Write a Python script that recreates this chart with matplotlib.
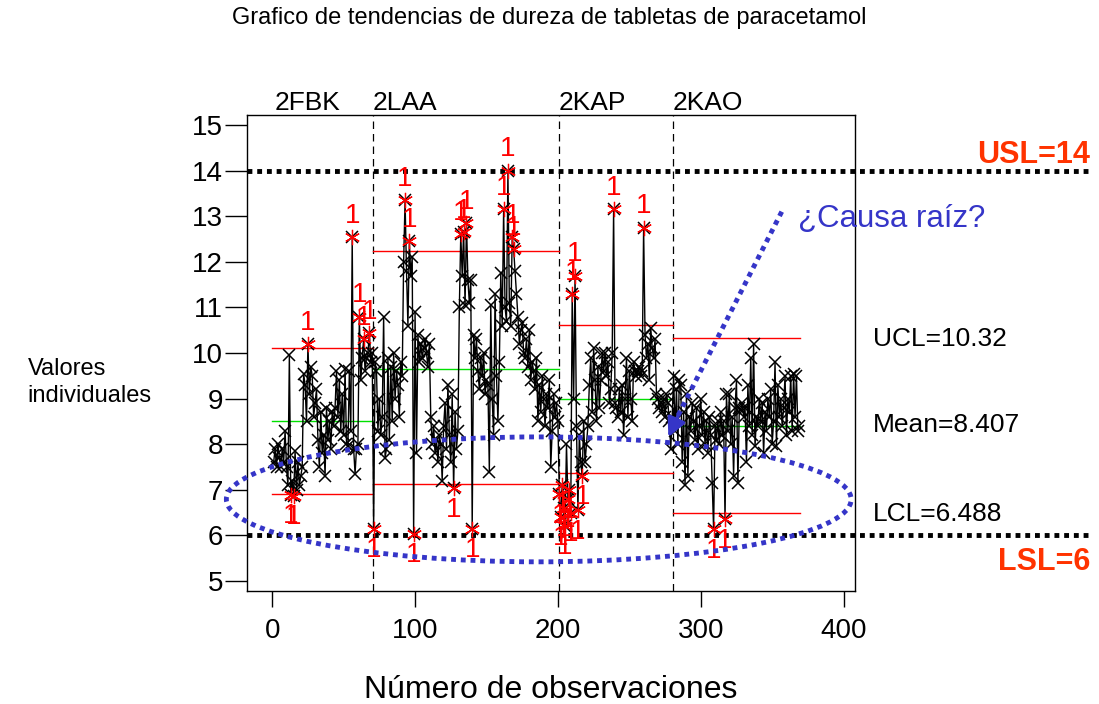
import matplotlib
matplotlib.use("Agg")
import matplotlib.pyplot as plt
from matplotlib.patches import Ellipse
import numpy as np

plt.rcParams['font.family'] = ['Liberation Sans', 'DejaVu Sans']

# hardness values per batch
vals_2fbk = [7.6, 7.9, 7.5, 8.0, 7.7, 7.5, 7.9, 7.6, 8.3, 7.5,
             7.1, 9.95, 6.88, 7.2, 6.86, 7.85, 7.0, 7.6, 7.1, 7.3,
             7.5, 9.55, 9.3, 8.5, 10.2, 9.1, 9.7, 9.5, 8.6, 8.9,
             9.2, 8.1, 7.5, 8.7, 7.8, 8.2, 7.3, 8.8, 8.1, 8.5,
             7.9, 8.7, 8.4, 8.8, 9.6, 8.6, 9.4, 8.3, 9.1, 8.2,
             9.65, 8.0, 7.95, 9.6, 8.3, 12.55, 7.9, 7.35, 7.9, 8.0,
             10.8, 9.4, 9.9, 10.3, 9.6, 9.9, 10.0, 10.43, 9.8, 10.0]
vals_2laa = [6.15, 9.8, 9.6, 8.3, 9.0, 8.2, 8.6, 10.8, 7.7, 7.9,
             9.9, 8.1, 9.7, 8.5, 10.0, 9.0, 9.6, 9.3, 8.6, 9.8,
             9.5, 12.0, 13.35, 11.8, 10.6, 12.45, 11.7, 12.1, 6.04, 10.9,
             7.8, 10.4, 9.8, 10.2, 9.9, 10.1, 10.3, 10.0, 9.7, 10.2,
             8.6, 8.0, 8.4, 7.8, 8.1, 7.6, 8.2, 8.0, 7.2, 8.4,
             8.9, 7.9, 9.3, 8.2, 7.6, 9.1, 7.03, 8.7, 7.9, 8.3,
             11.0, 12.6, 11.7, 12.66, 11.05, 12.85, 11.6, 11.1, 11.6, 6.15,
             10.4, 9.9, 10.3, 9.6, 9.2, 9.9, 9.5, 10.0, 9.1, 9.4,
             9.3, 7.4, 11.05, 9.0, 8.2, 11.3, 9.5, 8.5, 9.8, 11.75,
             10.6, 13.15, 11.0, 10.7, 14.0, 11.1, 10.6, 12.55, 12.28, 11.8,
             11.3, 10.8, 10.2, 10.5, 10.65, 10.0, 9.9, 10.3, 9.7, 10.5,
             9.4, 9.8, 9.6, 9.2, 9.9, 8.5, 9.3, 8.7, 9.5, 9.0,
             8.4, 9.1, 8.8, 9.4, 7.5, 8.3, 9.1, 8.6, 8.9, 8.5]
vals_2kap = [6.9, 6.4, 7.1, 6.6, 6.2, 8.0, 6.8, 7.0, 6.5, 11.3,
             9.0, 11.7, 8.4, 6.55, 8.2, 7.6, 7.3, 8.5, 7.6, 8.0,
             8.4, 9.3, 9.9, 8.7, 10.1, 9.4, 8.5, 9.7, 8.8, 9.4,
             10.0, 9.6, 10.0, 9.5, 9.8, 8.9, 9.2, 10.0, 13.15, 8.9,
             8.8, 8.6, 9.2, 8.7, 9.3, 8.2, 9.0, 9.9, 8.6, 9.6,
             9.0, 8.5, 9.8, 9.6, 9.5, 9.6, 9.7, 9.5, 9.6, 12.75,
             10.4, 9.9, 10.2, 9.4, 10.55, 10.1, 9.9, 10.3, 9.1, 9.0,
             8.8, 8.9, 8.7, 9.0, 8.6, 9.1, 8.9, 8.5, 7.9, 8.6]
vals_2kao = [9.5, 8.3, 9.2, 8.0, 9.4, 9.3, 7.6, 8.7, 7.1, 9.1,
             7.3, 8.6, 8.3, 8.9, 8.5, 8.1, 8.8, 7.9, 8.4, 9.0,
             8.2, 8.7, 8.0, 8.5, 7.8, 8.6, 8.2, 7.15, 6.13, 8.4,
             8.1, 8.5, 8.0, 8.7, 8.2, 8.5, 6.35, 9.1, 8.3, 9.1,
             8.0, 8.6, 7.3, 8.8, 9.4, 7.15, 8.8, 8.75, 8.9, 8.6,
             8.8, 7.6, 9.3, 8.4, 9.9, 8.2, 10.2, 7.95, 8.6, 8.4,
             9.0, 8.5, 8.9, 7.8, 8.7, 8.3, 9.0, 8.6, 9.2, 8.0,
             8.5, 9.8, 7.95, 9.3, 8.6, 9.0, 8.4, 8.8, 9.5, 8.2,
             9.0, 8.7, 9.5, 8.3, 9.55, 8.6, 9.5, 8.3, 8.4]

stages = ["2FBK", "2LAA", "2KAP", "2KAO"]
stage_vals = [vals_2fbk, vals_2laa, vals_2kap, vals_2kao]
ucl = [10.11, 12.24, 10.61, 10.32]
mean = [8.51, 9.66, 8.99, 8.407]
lcl = [6.91, 7.13, 7.37, 6.488]

y = np.concatenate(stage_vals)
x = np.arange(1, len(y) + 1)

fig = plt.figure(figsize=(10.99, 7.04), dpi=100)
ax = fig.add_axes([0.2243, 0.1605, 0.5537, 0.6761])

ax.plot(x, y, color='black', lw=1, zorder=3)
ax.plot(x, y, 'x', color='black', ms=9, mew=1.1, zorder=4)

start = 0
for i, vals in enumerate(stage_vals):
    n = len(vals)
    xa = start + 0.5 if i > 0 else 0
    xb = start + n + 0.5
    ax.plot([xa, xb], [ucl[i], ucl[i]], color='red', lw=1, zorder=2)
    ax.plot([xa, xb], [lcl[i], lcl[i]], color='red', lw=1, zorder=2)
    ax.plot([xa, xb], [mean[i], mean[i]], color='#00e000', lw=1, zorder=2)
    if i > 0:
        ax.axvline(start + 0.5, color='black', ls=(0, (6, 4)), lw=0.9, zorder=1)
    ax.text(start + (1.5 if i == 0 else 0.5), 15.22, stages[i], fontsize=19,
            ha='left', va='bottom')
    xs = np.arange(start + 1, start + n + 1)
    v = np.array(vals)
    hi = v > ucl[i]
    lo = v < lcl[i]
    for xx, vv in zip(xs[hi], v[hi]):
        ax.plot(xx, vv, marker=(6, 2, 0), color='red', ms=11, mew=0.9, zorder=5)
        ax.text(xx, vv + 0.18, '1', color='red', fontsize=20, ha='center', va='bottom', zorder=5)
    for xx, vv in zip(xs[lo], v[lo]):
        ax.plot(xx, vv, marker=(6, 2, 0), color='red', ms=11, mew=0.9, zorder=5)
        ax.text(xx, vv - 0.18, '1', color='red', fontsize=20, ha='center', va='top', zorder=5)
    start += n

# spec limits
ax.plot([-18, 572], [14, 14], color='black', ls=(0, (1, 1)), lw=3.5, clip_on=False, zorder=2)
ax.plot([-18, 572], [6, 6], color='black', ls=(0, (1, 1)), lw=3.5, clip_on=False, zorder=2)

blue = '#3535c8'
ell = Ellipse((186.6, 6.79), 437.4, 2.74, fill=False, edgecolor=blue, lw=3.5,
              ls=(0, (1, 1)), clip_on=False, zorder=6)
ax.add_patch(ell)
ax.plot([356.7, 282], [13.1, 8.5], color=blue, ls=(0, (1, 1)), lw=3.5, zorder=6)
ax.annotate('', xy=(276.5, 8.1), xytext=(286, 8.75),
            arrowprops=dict(arrowstyle='-|>', color=blue, lw=2.5, mutation_scale=28), zorder=6)

ax.set_xlim(-18, 408)
ax.set_ylim(4.78, 15.22)
ax.set_xticks([0, 100, 200, 300, 400])
ax.set_yticks(range(5, 16))
ax.tick_params(axis='y', length=16, width=1, labelsize=20, pad=1)
ax.tick_params(axis='x', length=11.5, width=1, labelsize=20, pad=8)
for s in ax.spines.values():
    s.set_linewidth(1)

ax.set_xlabel('Número de observaciones', fontsize=23, labelpad=22)
fig.text(0.025, 0.457, 'Valores\nindividuales', fontsize=17, ha='left', va='center',
         linespacing=1.3)
fig.text(0.5, 0.975, 'Grafico de tendencias de dureza de tabletas de paracetamol',
         fontsize=17, ha='center', va='center')

orange = '#ff3300'
fig.text(0.992, 0.78, 'USL=14', color=orange, fontsize=22, fontweight='bold', ha='right', va='center')
fig.text(0.992, 0.202, 'LSL=6', color=orange, fontsize=22, fontweight='bold', ha='right', va='center')
fig.text(0.794, 0.519, 'UCL=10.32', fontsize=19, ha='left', va='center')
fig.text(0.794, 0.396, 'Mean=8.407', fontsize=19, ha='left', va='center')
fig.text(0.794, 0.270, 'LCL=6.488', fontsize=19, ha='left', va='center')
fig.text(0.726, 0.689, '¿Causa raíz?', color=blue, fontsize=22.5, ha='left', va='center')

fig.savefig('out.png', dpi=100)
